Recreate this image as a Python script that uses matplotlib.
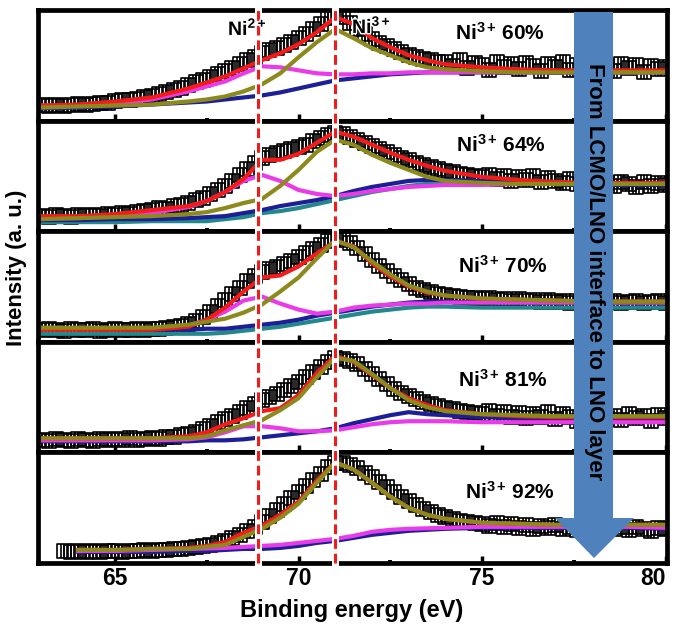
import matplotlib
matplotlib.use("Agg")
import matplotlib.pyplot as plt
import numpy as np
from matplotlib.path import Path
from matplotlib.lines import Line2D
from matplotlib.patches import Polygon
import matplotlib.transforms as mtransforms
import matplotlib.patheffects as pe

plt.rcParams['font.family'] = ['Liberation Sans', 'DejaVu Sans']
plt.rcParams['font.weight'] = 'bold'
plt.rcParams['mathtext.fontset'] = 'custom'
plt.rcParams['mathtext.rm'] = 'Liberation Sans:bold'
plt.rcParams['mathtext.it'] = 'Liberation Sans:bold'
plt.rcParams['mathtext.bf'] = 'Liberation Sans:bold'

nan = np.nan

# ---- data (binding energy in eV, intensity in arbitrary units per panel) ----
energy = [63.0, 63.2, 63.4, 63.6, 63.8, 64.0, 64.2, 64.4, 64.6, 64.8,
          65.0, 65.2, 65.4, 65.6, 65.8, 66.0, 66.2, 66.4, 66.6, 66.8,
          67.0, 67.2, 67.4, 67.6, 67.8, 68.0, 68.2, 68.4, 68.6, 68.8,
          69.0, 69.2, 69.4, 69.6, 69.8, 70.0, 70.2, 70.4, 70.6, 70.8,
          71.0, 71.2, 71.4, 71.6, 71.8, 72.0, 72.2, 72.4, 72.6, 72.8,
          73.0, 73.2, 73.4, 73.6, 73.8, 74.0, 74.2, 74.4, 74.6, 74.8,
          75.0, 75.2, 75.4, 75.6, 75.8, 76.0, 76.2, 76.4, 76.6, 76.8,
          77.0, 77.2, 77.4, 77.6, 77.8, 78.0, 78.2, 78.4, 78.6, 78.8,
          79.0, 79.2, 79.4, 79.6, 79.8, 80.0]

meas_60 = [16, 15, 16, 15, 16, 17, 16, 17, 18, 18,
           19, 20, 20, 21, 23, 24, 26, 28, 30, 32,
           35, 38, 40, 43, 46, 49, 52, 56, 60, 63,
           67, 70, 72, 75, 78, 82, 86, 91, 96, 102,
           106, 103, 97, 91, 86, 81, 77, 74, 71, 68,
           65, 63, 61, 60, 58, 58, 54, 60, 52, 57,
           55, 50, 58, 53, 56, 51, 57, 54, 49, 56,
           53, 58, 50, 55, 52, 57, 51, 54, 49, 56,
           52, 55, 48, 54, 51, 53]
meas_64 = [15, 14, 16, 15, 14, 16, 15, 16, 15, 17,
           16, 18, 17, 19, 20, 21, 23, 22, 25, 26,
           28, 31, 33, 37, 41, 45, 50, 56, 62, 68,
           73, 76, 78, 80, 82, 84, 86, 90, 93, 96,
           98, 97, 94, 91, 88, 85, 82, 79, 76, 73,
           71, 68, 66, 64, 62, 60, 59, 57, 56, 55,
           54, 56, 52, 55, 50, 54, 51, 55, 49, 53,
           50, 48, 52, 47, 51, 46, 50, 48, 45, 49,
           47, 44, 49, 45, 48, 46]
meas_70 = [12, 13, 12, 11, 13, 12, 12, 13, 11, 12,
           13, 12, 12, 13, 12, 13, 13, 14, 15, 16,
           18, 21, 25, 30, 36, 42, 48, 54, 60, 65,
           69, 72, 74, 77, 80, 84, 88, 92, 96, 100,
           103, 101, 98, 93, 87, 81, 75, 70, 65, 61,
           57, 54, 52, 50, 48, 47, 46, 45, 44, 44,
           43, 44, 42, 43, 41, 43, 41, 42, 40, 42,
           40, 41, 39, 41, 40, 41, 39, 40, 41, 39,
           40, 41, 39, 40, 41, 39]
meas_81 = [12, 11, 13, 12, 11, 13, 12, 11, 13, 12,
           13, 12, 14, 12, 13, 14, 13, 15, 15, 17,
           18, 20, 23, 26, 30, 33, 36, 40, 44, 48,
           52, 55, 58, 62, 66, 70, 75, 80, 85, 90,
           94, 93, 91, 88, 83, 78, 73, 68, 63, 59,
           56, 53, 50, 48, 46, 44, 43, 41, 40, 39,
           38, 41, 36, 40, 35, 39, 34, 38, 35, 40,
           33, 38, 35, 31, 37, 34, 39, 33, 36, 32,
           38, 34, 36, 31, 37, 34]
meas_92 = [nan, nan, nan, 12, 11, 12, 11, 12, 11, 12,
           12, 11, 12, 12, 13, 12, 13, 13, 14, 14,
           15, 16, 17, 18, 20, 22, 25, 28, 32, 36,
           41, 47, 53, 59, 65, 71, 77, 83, 89, 95,
           99, 99, 97, 94, 90, 86, 81, 76, 71, 66,
           62, 58, 54, 51, 48, 46, 44, 42, 41, 40,
           39, 37, 40, 36, 39, 35, 38, 34, 37, 35,
           38, 34, 36, 33, 37, 35, 33, 37, 34, 36,
           33, 36, 34, 32, 35, 34]

# fitted components, read on a coarser energy grid
fit_energy = [63.0, 64.0, 65.0, 66.0, 67.0, 67.5, 68.0, 68.5, 69.0, 69.5,
              70.0, 70.5, 71.0, 71.5, 72.0, 72.5, 73.0, 73.5, 74.0, 75.0,
              76.0, 77.0, 78.0, 79.0, 80.0]

total_60 = [15, 16, 19, 23, 32, 38, 44, 52, 60, 67, 76, 88, 103, 96, 82, 73, 65, 60, 56, 53, 51, 50, 50, 50, 50]
ni2_60 = [15, 15, 17, 21, 29, 34, 39, 47, 54, 53, 50, 47, 46, 46, 47, 47, 48, 48, 48, 48, 48, 48, 48, 48, 48]
ni3_60 = [13, 14, 15, 16, 19, 21, 24, 29, 36, 47, 63, 78, 91, 82, 72, 65, 58, 53, 51, 49, 48, 48, 48, 48, 48]
bg_60 = [12, 13, 14, 16, 18, 19, 21, 23, 25, 28, 32, 36, 40, 42, 44, 46, 47, 48, 48, 48, 48, 48, 48, 48, 48]

total_64 = [15, 15, 17, 21, 25, 30, 39, 52, 71, 71, 77, 88, 99, 94, 86, 78, 71, 65, 60, 54, 51, 49, 48, 48, 48]
ni2_64 = [13, 13, 15, 18, 24, 30, 39, 50, 56, 50, 41, 37, 35, 37, 40, 42, 44, 45, 46, 46, 47, 47, 48, 48, 48]
ni3_64 = [12, 13, 14, 15, 17, 19, 23, 28, 32, 45, 61, 79, 91, 86, 76, 68, 61, 54, 50, 48, 47, 47, 47, 47, 47]
bg_64 = [11, 11, 12, 12, 13, 14, 15, 18, 21, 25, 28, 31, 35, 40, 44, 47, 50, 51, 51, 50, 48, 47, 46, 46, 46]
bg2_64 = [9, 9, 9, 10, 10, 10, 12, 14, 18, 20, 23, 27, 31, 35, 39, 42, 45, 47, 48, 48, 47, 47, 46, 46, 46]

total_70 = [12, 12, 12, 12, 15, 22, 34, 50, 64, 66, 75, 88, 100, 95, 78, 65, 55, 49, 46, 43, 42, 41, 40, 40, 40]
ni2_70 = [13, 13, 13, 13, 16, 22, 30, 41, 45, 38, 32, 28, 30, 34, 36, 37, 38, 38, 39, 39, 39, 39, 39, 39, 39]
ni3_70 = [14, 14, 14, 14, 17, 20, 23, 29, 37, 50, 64, 83, 101, 94, 80, 67, 56, 50, 46, 43, 42, 41, 40, 40, 40]
bg_70 = [13, 13, 13, 12, 12, 13, 13, 15, 17, 19, 22, 26, 29, 32, 35, 37, 39, 40, 40, 39, 39, 39, 39, 39, 39]
bg2_70 = [8, 8, 8, 8, 8, 8, 9, 11, 13, 15, 18, 21, 24, 27, 30, 32, 34, 35, 35, 34, 34, 34, 34, 34, 34]

total_81 = [14, 14, 14, 14, 16, 20, 28, 34, 41, 44, 57, 79, 96, 90, 77, 64, 54, 47, 42, 38, 36, 35, 35, 35, 35]
ni2_81 = [12, 12, 12, 12, 13, 15, 20, 26, 26, 24, 21, 21, 22, 25, 28, 30, 31, 31, 31, 30, 30, 30, 30, 30, 30]
ni3_81 = [14, 14, 14, 14, 14, 16, 22, 27, 32, 42, 54, 75, 94, 91, 78, 64, 52, 45, 41, 38, 37, 36, 36, 36, 36]
bg_81 = [11, 11, 11, 11, 11, 12, 12, 13, 15, 17, 19, 21, 24, 29, 33, 37, 40, 38, 37, 35, 34, 33, 33, 33, 33]

total_92 = [nan, 13, 13, 14, 15, 17, 21, 30, 37, 48, 61, 82, 100, 93, 80, 66, 55, 48, 44, 40, 39, 38, 38, 38, 38]
ni2_92 = [nan, 12, 12, 13, 14, 14.5, 15, 16, 17, 18, 20, 22, 24, 27, 31, 33, 34, 34.5, 35, 36, 36, 36, 36, 36, 35]
ni3_92 = [nan, 13, 13, 14, 14, 16, 18, 26, 34, 45, 59, 80, 100, 93, 80, 66, 55, 48, 44, 40, 39, 38, 38, 38, 38]
bg_92 = [nan, 11, 11, 11, 12, 12, 13, 14, 14, 15, 17, 20, 22, 25, 28, 30, 32, 33, 34, 35, 35, 35, 35, 35, 34]

ni3_share = ['60%', '64%', '70%', '81%', '92%']
peak_ni2 = 68.9
peak_ni3 = 71.0

panels = [
    (meas_60, total_60, ni2_60, ni3_60, bg_60, None),
    (meas_64, total_64, ni2_64, ni3_64, bg_64, bg2_64),
    (meas_70, total_70, ni2_70, ni3_70, bg_70, bg2_70),
    (meas_81, total_81, ni2_81, ni3_81, bg_81, None),
    (meas_92, total_92, ni2_92, ni3_92, bg_92, None),
]

# ---- figure ----
W, H = 675, 628
fig = plt.figure(figsize=(W / 100, H / 100), dpi=100)
gs = fig.add_gridspec(5, 1, left=38 / W, right=667 / W, top=1 - 10 / H, bottom=1 - 563 / H, hspace=0)

# open box marker with a few inner strokes (dense overlapping boxes look)
verts = [(-.5, -.5), (.5, -.5), (.5, .5), (-.5, .5), (-.5, -.5),
         (-.25, -.5), (-.25, .5), (0, -.5), (0, .5), (.25, -.5), (.25, .5)]
codes = [Path.MOVETO, Path.LINETO, Path.LINETO, Path.LINETO, Path.CLOSEPOLY,
         Path.MOVETO, Path.LINETO, Path.MOVETO, Path.LINETO, Path.MOVETO, Path.LINETO]
box = Path(verts, codes)

RED = '#f51b1b'
OLIVE = '#8c8a1c'
MAGENTA = '#ea3be8'
NAVY = '#1d1f96'
TEAL = '#23888c'
LW = 3.0

axes = []
for i, (meas, tot, n2, n3, bg, bg2) in enumerate(panels):
    ax = fig.add_subplot(gs[i])
    axes.append(ax)
    ax.plot(energy, meas, ls='none', marker=box, ms=10, mfc='none', mec='black', mew=1.2, zorder=1)
    if bg2 is not None:
        ax.plot(fit_energy, bg2, color=TEAL, lw=LW, zorder=2)
    ax.plot(fit_energy, bg, color=NAVY, lw=LW, zorder=2.1)
    ax.plot(fit_energy, n2, color=MAGENTA, lw=LW, zorder=2.2)
    ax.plot(fit_energy, tot, color=RED, lw=LW, zorder=2.3)
    ax.plot(fit_energy, n3, color=OLIVE, lw=LW, zorder=2.4)
    ax.set_xlim(62.9, 80.04)
    ax.set_ylim(0, 110)
    ax.set_yticks([])
    ax.set_xticks([65, 70, 75, 80])
    ax.set_xticks([67.5, 72.5, 77.5], minor=True)
    ax.tick_params(axis='x', which='major', direction='in', length=5, width=2.5,
                   labelbottom=(i == 4), labelsize=16.5, pad=3)
    ax.tick_params(axis='x', which='minor', direction='in', length=2, width=2.8)
    for s in ax.spines.values():
        s.set_linewidth(3.4)

labels = axes[-1].get_xticklabels()
for lab in labels:
    lab.set_fontweight('bold')
labels[-1].set_horizontalalignment('right')

# dashed peak markers across all panels
for xv in (peak_ni2, peak_ni3):
    tr = mtransforms.blended_transform_factory(axes[0].transData, fig.transFigure)
    fig.add_artist(Line2D([xv, xv], [1 - 563 / H, 1 - 10 / H], transform=tr, color='white', lw=5, zorder=5))
    fig.add_artist(Line2D([xv, xv], [1 - 563 / H, 1 - 10 / H], transform=tr, color='#ee1c1c', lw=2.2,
                          ls=(0, (3.2, 1.6)), zorder=6))


def fp(x, y):
    return (x / W, 1 - y / H)


# arrow
arrow_pts = [fp(574, 12), fp(613, 12), fp(613, 518), fp(634, 518), fp(594, 558), fp(555, 518), fp(574, 518)]
fig.add_artist(Polygon(arrow_pts, closed=True, transform=fig.transFigure, facecolor='#4f81bd',
                       edgecolor='none', zorder=7))
fig.text(*fp(594, 272), 'From LCMO/LNO interface to LNO layer', rotation=-90, ha='center', va='center',
         fontsize=16, fontweight='bold', zorder=8)

# labels
label_pos = [(455, 40), (456, 152), (458, 273), (458, 387), (465, 499)]
for (x, y), share in zip(label_pos, ni3_share):
    fig.text(*fp(x, y), r'Ni$^{3+}\,$' + share, fontsize=15, fontweight='bold', ha='left', va='baseline', zorder=8)

halo = [pe.withStroke(linewidth=2, foreground='white')]
fig.text(*fp(228, 35), r'Ni$^{2+}$', fontsize=14, fontweight='bold', ha='left', va='baseline', zorder=8,
         path_effects=halo)
fig.text(*fp(352, 33), r'Ni$^{3+}$', fontsize=14, fontweight='bold', ha='left', va='baseline', zorder=8,
         path_effects=halo)

fig.text(*fp(352, 610), 'Binding energy (eV)', fontsize=17, fontweight='bold', ha='center', va='center')
fig.text(*fp(17, 268), 'Intensity (a. u.)', fontsize=16, fontweight='bold', rotation=90, ha='center', va='center')

fig.savefig('out.png', dpi=100)
